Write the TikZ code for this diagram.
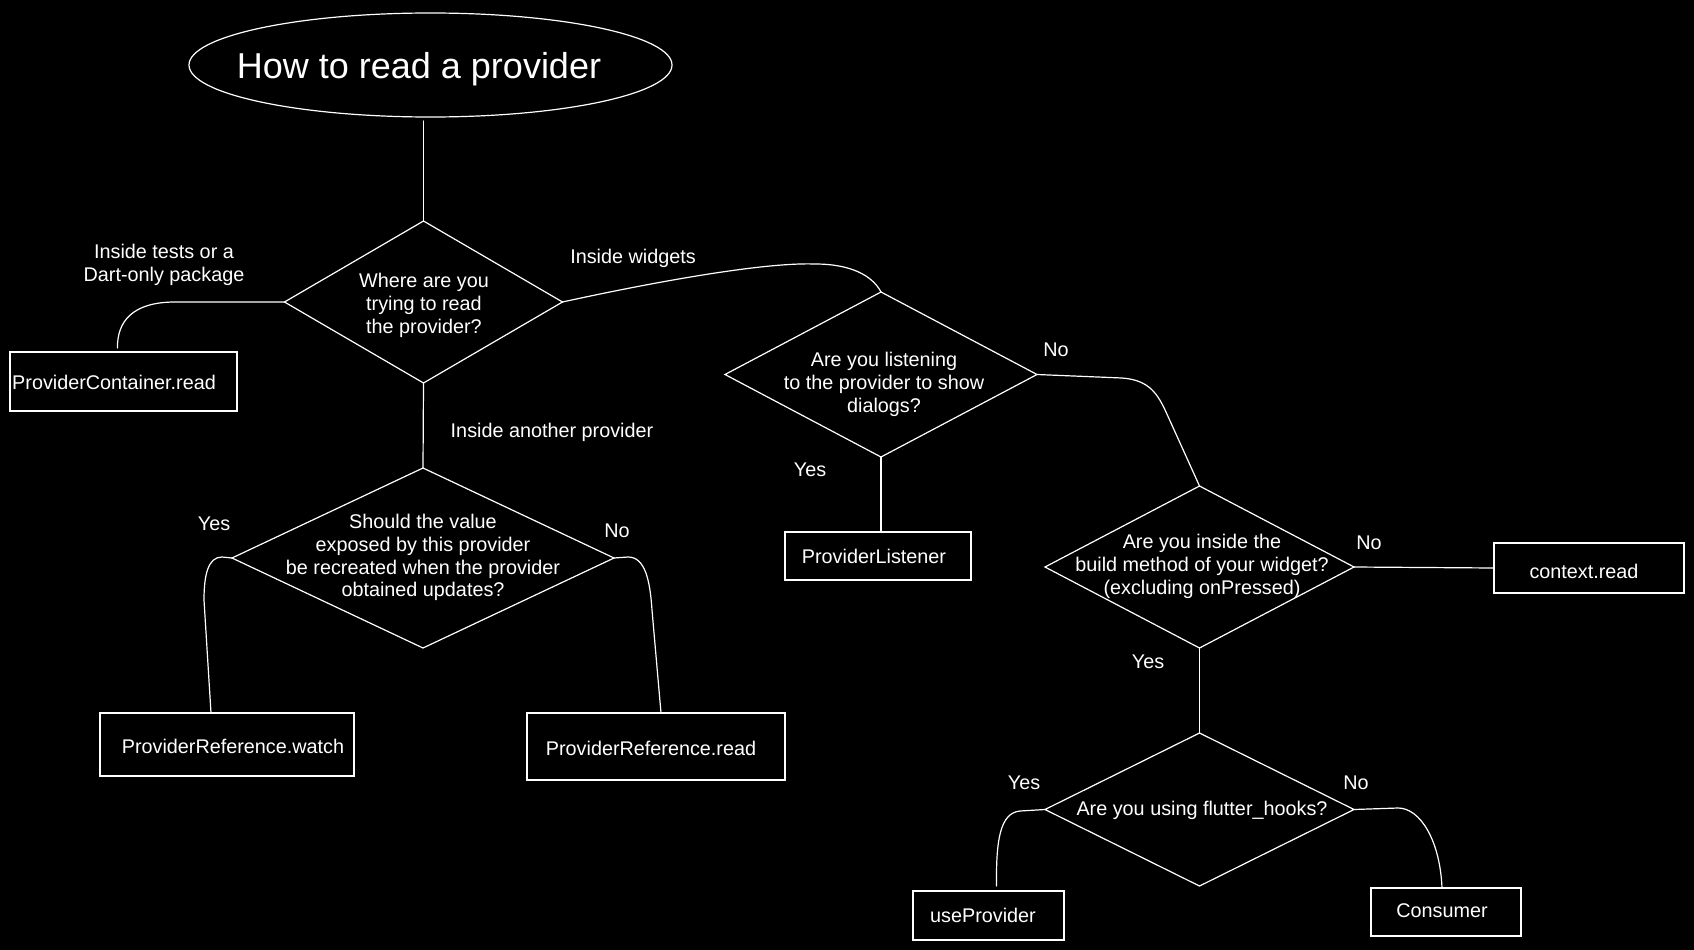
\documentclass[tikz,border=0pt]{standalone}
\usepackage{fontspec}
\setmainfont{Liberation Sans}
\usetikzlibrary{shapes.geometric}
\begin{document}
\begin{tikzpicture}[x=1pt,y=-1pt,
  every node/.style={text=white, font=\fontsize{19.8}{22.7}\selectfont},
  ln/.style={draw=white, line width=1.2pt, line cap=round, line join=round},
  dia/.style={shape=diamond, draw=white, line width=1.2pt, inner sep=0pt, outer sep=0pt},
  box/.style={rectangle, draw=white, line width=1.2pt, inner sep=0pt, outer sep=0pt},
  lbl/.style={align=center, inner sep=0pt, yshift=-3.2pt}]
\fill[black] (0,0) rectangle (1694,950);
\useasboundingbox (0,0) rectangle (1694,950);

% title
\node[ellipse, draw=white, line width=1.2pt, minimum width=483pt, minimum height=104pt, inner sep=0pt, outer sep=0pt] (title) at (430.5,65) {};
\node[lbl, font=\fontsize{36}{40}\selectfont] (titlet) at (419,66) {How to read a provider};

% diamonds
\node[dia, minimum width=278pt, minimum height=162pt] (d1) at (423.5,302) {};
\node[lbl] (d1t) at (424,302) {Where are you\\trying to read\\the provider?};
\node[dia, minimum width=312pt, minimum height=165pt] (d2) at (881,374.5) {};
\node[lbl] (d2t) at (884,381) {Are you listening\\to the provider to show\\dialogs?};
\node[dia, minimum width=309pt, minimum height=162pt] (d3) at (1199.5,567) {};
\node[lbl] (d3t) at (1202,563) {Are you inside the\\build method of your widget?\\(excluding onPressed)};
\node[dia, minimum width=309pt, minimum height=153pt] (d4) at (1199.5,809.5) {};
\node[lbl] (d4t) at (1202,807) {Are you using flutter\_hooks?};
\node[dia, minimum width=382pt, minimum height=180pt] (d5) at (423,558) {};
\node[lbl] (d5t) at (423,554.5) {Should the value\\exposed by this provider\\be recreated when the provider\\obtained updates?};

% boxes
\node[box, minimum width=227pt, minimum height=59pt] (pc) at (123.5,381.5) {};
\node[lbl, anchor=west] (pct) at (12,379.5) {ProviderContainer.read};
\node[box, minimum width=186pt, minimum height=48pt] (pl) at (878,556) {};
\node[lbl] (plt) at (874,553) {ProviderListener};
\node[box, minimum width=190pt, minimum height=50pt] (cr) at (1589,568) {};
\node[lbl] (crt) at (1584,568) {context.read};
\node[box, minimum width=151pt, minimum height=49pt] (up) at (988.5,915.5) {};
\node[lbl] (upt) at (983,912) {useProvider};
\node[box, minimum width=150pt, minimum height=48pt] (cn) at (1446,912) {};
\node[lbl] (cnt) at (1442,907) {Consumer};
\node[box, minimum width=254pt, minimum height=63pt] (prw) at (227,744.5) {};
\node[lbl] (prwt) at (233,743.5) {ProviderReference.watch};
\node[box, minimum width=258pt, minimum height=67pt] (prr) at (656,746.5) {};
\node[lbl] (prrt) at (651,745.5) {ProviderReference.read};

% labels
\node[lbl] (l1) at (164,262) {Inside tests or a\\Dart-only package};
\node[lbl] (l2) at (633,255) {Inside widgets};
\node[lbl] (l3) at (552,429) {Inside another provider};
\node[lbl] (l4) at (1056,347) {No};
\node[lbl] (l5) at (810,467) {Yes};
\node[lbl] (l6) at (1369,540) {No};
\node[lbl] (l7) at (1148,659) {Yes};
\node[lbl] (l8) at (1024,780) {Yes};
\node[lbl] (l9) at (1356,780) {No};
\node[lbl] (l10) at (214,521) {Yes};
\node[lbl] (l11) at (617,528) {No};

% connectors
\draw[ln] (d1.north) -- ([yshift=-4pt]d1.north |- title.south);
\draw[ln] (d1.west) -- (175,302) .. controls (132,302) and (117,322) .. ([xshift=-6pt,yshift=4pt]pc.north);
\draw[ln] (d1.east) .. controls (640,285) and (760,262) .. (815,264) .. controls (850,264) and (872,275) .. (d2.north);
\draw[ln] (d2.south) -- (d2.south |- pl.north);
\draw[ln] (d2.east) -- (1122,378) .. controls (1150,380) and (1158,395) .. (1166,412) -- (d3.north);
\draw[ln] (d3.east) -- (cr.west);
\draw[ln] (d3.south) -- (d4.north);
\draw[ln] (d4.west) -- (1020,811) .. controls (1000,813) and (996,840) .. ([xshift=8pt,yshift=5pt]up.north);
\draw[ln] (d4.east) -- (1398,808) .. controls (1420,808) and (1440,840) .. ([xshift=-4pt]cn.north);
\draw[ln] (d1.south) -- (d5.north);
\draw[ln] (d5.west) -- (222,557) .. controls (208,557) and (204,575) .. (204,600) -- ([xshift=-16pt]prw.north);
\draw[ln] (d5.east) -- (628,557) .. controls (645,557) and (650,580) .. (652,610) -- ([xshift=5pt]prr.north);
\end{tikzpicture}
\end{document}
